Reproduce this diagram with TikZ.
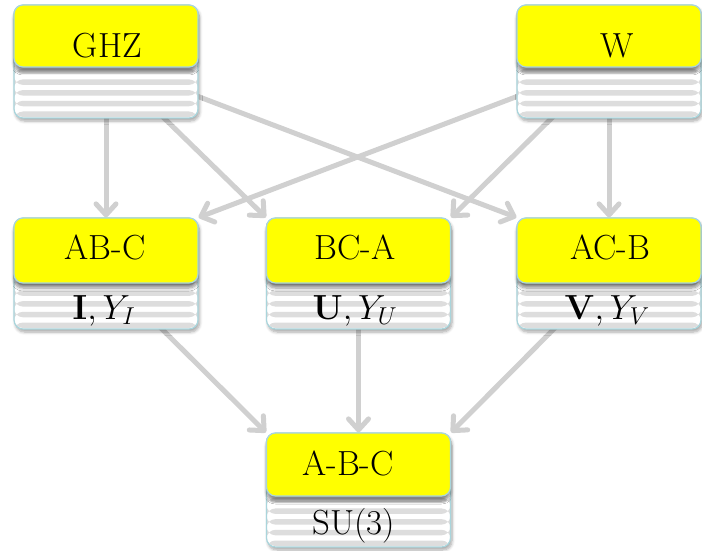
\RequirePackage{fix-cm}
\documentclass[tikz,border=0pt]{standalone}
\usetikzlibrary{arrows.meta,shadows.blur,backgrounds}
\definecolor{rim}{HTML}{A9D5DC}
\definecolor{band}{HTML}{DDDDDD}
\definecolor{wirecol}{HTML}{D0D0D0}
\definecolor{headcol}{HTML}{FFFF00}
\tikzset{
  softshadow/.style={blur shadow={shadow blur steps=6, shadow xshift=1.5bp, shadow yshift=-3bp, shadow opacity=35, shadow blur radius=3bp}},
  headshadow/.style={blur shadow={shadow blur steps=6, shadow xshift=0bp, shadow yshift=-5bp, shadow opacity=45, shadow blur radius=3bp}},
  body/.style={draw=rim, line width=1.2bp, rounded corners=9bp, fill=white,
    minimum width=184bp, inner sep=0pt, softshadow,
    path picture={
      \foreach \k in {0,...,11}
        \fill[band] ([yshift=(1+\k*10.7)*1bp]path picture bounding box.south west)
          rectangle ([yshift=(6.5+\k*10.7)*1bp]path picture bounding box.south east);
    }},
  head/.style={draw=rim, line width=1.2bp, rounded corners=9bp, fill=headcol,
    minimum width=184bp, inner sep=0pt, anchor=north, headshadow},
  caption/.style={font=\fontsize{35}{42}\selectfont, inner sep=0pt, anchor=base},
  wire/.style={draw=wirecol, line width=5bp, line cap=round,
    -{Straight Barb[length=11bp,width=20bp,round]}},
}
\begin{document}
\begin{tikzpicture}[x=1bp,y=-1bp]
\useasboundingbox (0,0) rectangle (702,551);

% top row: the two entangled classes
\node[body, minimum height=113bp] (ghz) at (106,61.5) {};
\node[head, minimum height=62bp] (ghzh) at (ghz.north) {};
\node[caption] (ghzt) at (107.5,57.5) {GHZ};

\node[body, minimum height=113bp] (w) at (609,61.5) {};
\node[head, minimum height=62bp] (wh) at (w.north) {};
\node[caption] (wt) at (617,57.5) {W};

% middle row: biseparable classes
\node[body, minimum height=111bp] (abc) at (106,273.5) {};
\node[head, minimum height=65bp] (abch) at (abc.north) {};
\node[caption] (abct) at (105,260) {AB-C};
\node[caption] (abcs) at (104,319) {$\mathbf{I}, Y_I$};

\node[body, minimum height=111bp] (bca) at (358.5,273.5) {};
\node[head, minimum height=65bp] (bcah) at (bca.north) {};
\node[caption] (bcat) at (355,260) {BC-A};
\node[caption] (bcas) at (355,319) {$\mathbf{U}, Y_U$};

\node[body, minimum height=111bp] (acb) at (609,273.5) {};
\node[head, minimum height=65bp] (acbh) at (acb.north) {};
\node[caption] (acbt) at (610,260) {AC-B};
\node[caption] (acbs) at (607,319) {$\mathbf{V}, Y_V$};

% bottom: fully separable class
\node[body, minimum height=114bp] (sep) at (358.5,490) {};
\node[head, minimum height=63bp] (seph) at (sep.north) {};
\node[caption] (sept) at (348,475) {A-B-C};
\node[caption] (seps) at (354,534) {SU(3)};

% connectors run behind the boxes
\begin{pgfonlayer}{background}
  \draw[wire] (ghz.center) -- (abc.north);
  \draw[wire] (ghz.center) -- (bca.north west);
  \draw[wire] (ghz.center) -- (acb.north west);
  \draw[wire] (w.center) -- (abc.north east);
  \draw[wire] (w.center) -- (bca.north east);
  \draw[wire] (w.center) -- (acb.north);
  \draw[wire] (abc.center) -- (sep.north west);
  \draw[wire] (bca.center) -- (sep.north);
  \draw[wire] (acb.center) -- (sep.north east);
\end{pgfonlayer}
\end{tikzpicture}
\end{document}
